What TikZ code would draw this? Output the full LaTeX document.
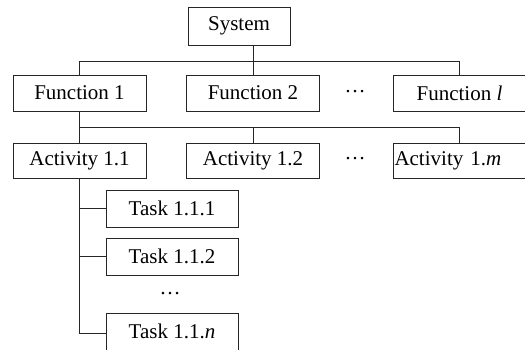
\documentclass[tikz,border=0pt]{standalone}
\usepackage{fontspec}
\setmainfont{Liberation Serif}
\usetikzlibrary{positioning}

\begin{document}
\begin{tikzpicture}[
  x=1pt,y=-1pt,
  unit/.style={
    draw=black!85,
    line width=0.9pt,
    fill=white,
    inner sep=0pt,
    font=\fontsize{21}{25}\selectfont
  },
  topunit/.style={unit,minimum width=102pt,minimum height=38pt},
  funcunit/.style={unit,minimum width=133pt,minimum height=36pt},
  actunit/.style={unit,minimum width=133pt,minimum height=35pt},
  taskunit/.style={unit,minimum width=132pt,minimum height=37pt},
  gap/.style={font=\fontsize{21}{25}\selectfont,inner sep=0pt},
  link/.style={draw=black!85,line width=0.9pt}
]
  \useasboundingbox (0,0) rectangle (525,349);

  \node[topunit] (sys) at (239,26) {System};

  \node[funcunit] (fun1) at (79.5,93) {Function 1};
  \node[funcunit] (fun2) at (253,93) {Function 2};
  \node[gap] (fundots) at (355,92) {\dots};
  \node[funcunit] (funl) at (459.5,93) {Function \textit{l}};

  \node[actunit] (act1) at (79.5,160.5) {Activity 1.1};
  \node[actunit] (act2) at (253,160.5) {Activity 1.2};
  \node[gap] (actdots) at (355,159) {\dots};
  \node[actunit,text width=130pt,align=left,inner xsep=1.5pt] (actm) at (459.5,160.5)
    {Activity 1.\textit{m}};

  \node[taskunit] (task1) at (172,208.5) {Task 1.1.1};
  \node[taskunit] (task2) at (172,256.5) {Task 1.1.2};
  \node[gap] (taskdots) at (170,294) {\dots};
  \node[taskunit] (taskn) at (172,331.5) {Task 1.1.\textit{n}};

  \coordinate (fbus) at (253,61);
  \coordinate (abus) at (253,127);

  \draw[link] (sys.south -| fun2.north) -- (fun2.north);
  \draw[link] (fun1.north) |- (funl.north |- fbus) -- (funl.north);

  \draw[link] (fun1.south) -- (act1.north);
  \draw[link] (act1.north |- abus) -- (actm.north |- abus) -- (actm.north);
  \draw[link] (act2.north |- abus) -- (act2.north);

  \draw[link] (act1.south) |- ([yshift=-1.5pt]taskn.west);
  \draw[link] (task1.west -| act1.south) -- (task1.west);
  \draw[link] (task2.west -| act1.south) -- (task2.west);
\end{tikzpicture}
\end{document}
